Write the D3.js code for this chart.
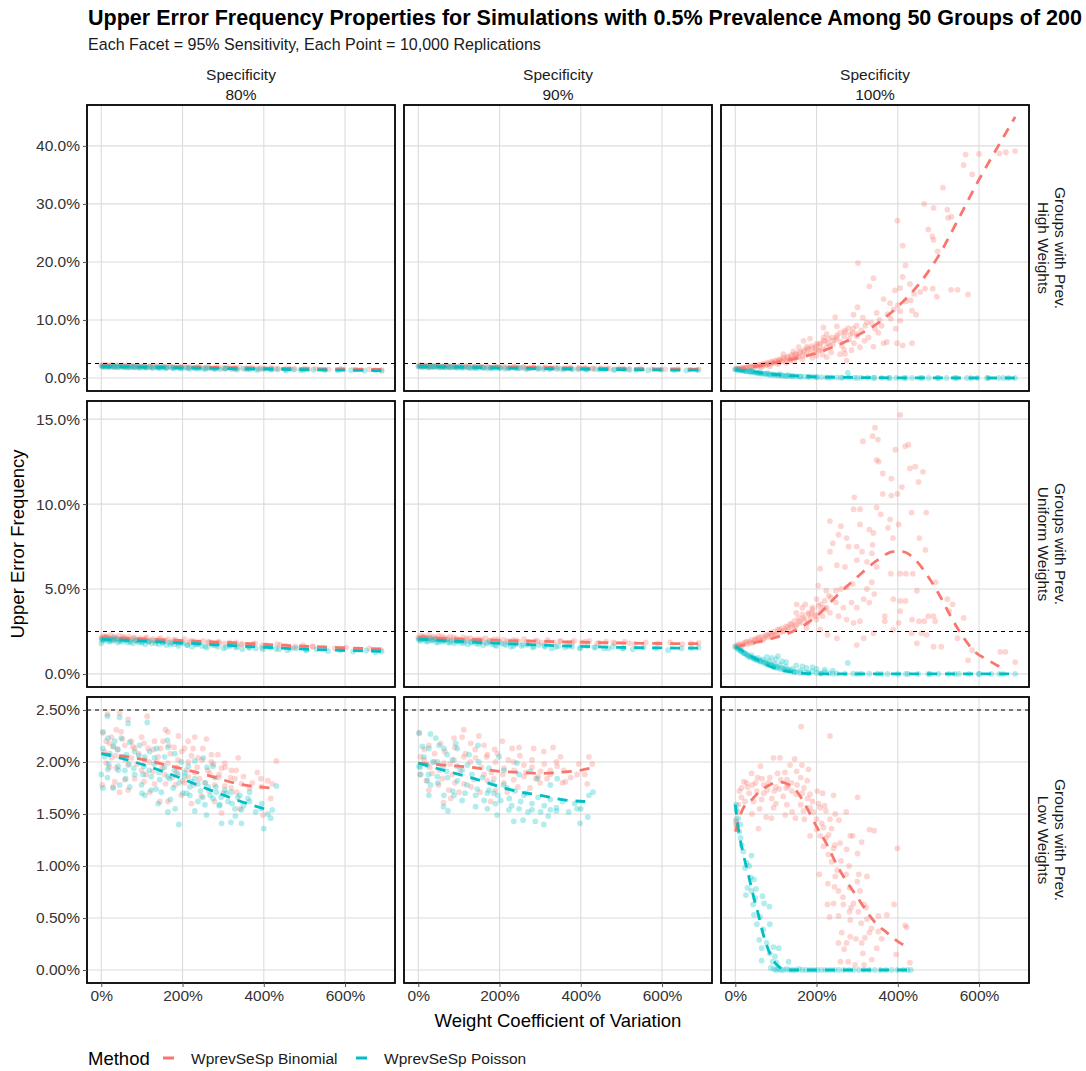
<!DOCTYPE html>
<html>
<head>
<meta charset="utf-8">
<script src="https://cdn.jsdelivr.net/npm/d3@7"></script>
<style>
  body { margin: 0; background: #fff; }
  text { font-family: "Liberation Sans", Arial, sans-serif; }
</style>
</head>
<body>
<svg id="chart" width="1086" height="1071"></svg>
<script>
const titleText = "Upper Error Frequency Properties for Simulations with 0.5% Prevalence Among 50 Groups of 200";
const subtitleText = "Each Facet = 95% Sensitivity, Each Point = 10,000 Replications";
const specLabels = ["80%", "90%", "100%"];
const rowLabels = [["Groups with Prev.", "High Weights"], ["Groups with Prev.", "Uniform Weights"], ["Groups with Prev.", "Low Weights"]];
const methods = ["WprevSeSp Binomial", "WprevSeSp Poisson"];
const colors = ["#F8766D", "#00BFC4"];
const xTicks = [0, 200, 400, 600];
const yTicksHigh = [0, 10, 20, 30, 40];
const yTicksUniform = [0, 5, 10, 15];
const yTicksLow = [0, 0.5, 1, 1.5, 2, 2.5];
const threshold = 2.5;

// points, "cv:freq" in percent
const highSp80Bin = "0:2.15 5:2.3 9:2.0 14:2.2 18:2.05 24:2.25 29:2.1 33:1.95 40:2.2 46:2.05 52:2.15 58:1.95 63:2.2 70:2.0 76:2.1 83:1.9 90:2.15 97:2.0 104:2.1 112:1.85 120:2.05 128:1.95 137:2.15 145:1.9 153:2.0 162:1.85 170:2.05 180:1.9 189:1.8 198:2.0 208:1.85 218:1.95 229:1.75 240:1.9 251:1.8 263:1.95 275:1.7 288:1.85 300:1.75 313:1.9 326:1.7 340:1.8 355:1.65 370:1.8 386:1.7 402:1.6 418:1.75 436:1.6 455:1.7 476:1.55 500:1.65 528:1.6 560:1.5 590:1.55 625:1.45 660:1.5 690:1.4 " +
  "3:2.05 12:2.15 20:1.95 31:2.05 42:2.1 55:2.0 67:2.1 80:1.95 93:2.05 107:1.95 122:2.0 140:1.85 158:1.95 176:1.8 195:1.9 215:1.8 236:1.85 258:1.75 282:1.8 306:1.7 332:1.75 360:1.65 392:1.7 428:1.6 465:1.62 510:1.55";
const highSp80Poi = "2:2.05 7:1.95 12:2.1 17:1.9 22:2.0 27:2.15 32:1.85 38:2.0 44:1.9 50:2.05 56:1.85 62:1.95 68:1.8 75:2.0 82:1.85 89:1.95 96:1.75 104:1.9 111:1.8 119:1.95 127:1.75 135:1.85 144:1.7 152:1.85 161:1.75 170:1.9 179:1.65 188:1.8 198:1.7 208:1.8 219:1.6 230:1.75 242:1.65 254:1.55 266:1.7 279:1.6 292:1.5 306:1.65 320:1.55 335:1.45 350:1.6 366:1.5 382:1.4 399:1.55 416:1.45 434:1.5 453:1.4 474:1.45 497:1.35 522:1.42 550:1.35 583:1.3 615:1.35 648:1.25 675:1.3 690:1.22 " +
  "4:1.95 10:2.05 19:1.95 30:2.0 41:1.85 53:1.95 65:1.85 78:1.9 92:1.8 108:1.85 124:1.75 141:1.8 158:1.7 176:1.75 195:1.65 214:1.7 235:1.6 257:1.65 280:1.55 304:1.6 330:1.5 358:1.52 388:1.45 420:1.48 455:1.38 490:1.4";
const highSp90Bin = "0:2.1 6:2.25 11:1.95 16:2.15 21:2.05 27:2.2 33:1.95 39:2.1 45:2.0 51:2.2 58:1.9 64:2.05 71:2.15 78:1.95 85:2.05 92:1.9 100:2.1 108:1.95 116:2.05 124:1.85 133:2.0 142:1.9 151:2.05 160:1.85 170:1.95 180:1.8 190:2.0 201:1.85 212:1.95 223:1.75 235:1.9 247:1.8 259:1.9 272:1.7 285:1.85 299:1.75 313:1.85 328:1.7 343:1.8 359:1.65 375:1.75 392:1.65 410:1.75 429:1.6 449:1.7 470:1.6 493:1.65 518:1.55 546:1.6 576:1.55 608:1.5 640:1.55 668:1.45 690:1.5 " +
  "3:2.05 13:2.1 24:1.95 35:2.05 47:2.1 60:1.95 73:2.05 87:2.0 102:1.95 118:2.05 136:1.9 154:1.95 173:1.85 193:1.9 214:1.8 236:1.9 260:1.8 284:1.82 310:1.75 337:1.8 366:1.7 396:1.72 430:1.65 465:1.68 505:1.6";
const highSp90Poi = "1:2.0 6:2.1 11:1.9 16:2.05 22:1.95 28:1.85 34:2.0 40:1.9 46:2.05 53:1.85 60:1.95 67:1.8 74:1.95 81:1.85 89:1.9 97:1.75 105:1.9 113:1.8 122:1.85 131:1.7 140:1.85 149:1.75 159:1.8 169:1.65 179:1.8 190:1.7 201:1.75 213:1.6 225:1.75 238:1.65 251:1.7 265:1.55 279:1.7 294:1.6 309:1.5 325:1.65 341:1.55 358:1.45 376:1.6 395:1.5 415:1.45 436:1.55 458:1.45 482:1.4 508:1.5 536:1.4 566:1.35 598:1.42 630:1.35 660:1.3 688:1.35 " +
  "4:1.95 14:2.0 25:1.9 37:1.95 50:1.85 63:1.9 77:1.8 92:1.85 108:1.75 125:1.82 142:1.7 160:1.78 180:1.68 200:1.72 222:1.62 245:1.68 270:1.6 296:1.64 322:1.55 350:1.58 380:1.5 412:1.52 446:1.45 482:1.48 520:1.42";
const highSp100Bin = "0:1.5 5:1.6 10:1.55 15:1.7 20:1.65 25:1.8 30:1.75 35:1.9 40:1.85 45:2.0 50:2.1 55:1.95 60:2.2 65:2.1 70:2.35 75:2.25 80:2.5 85:2.4 90:2.7 95:2.55 100:2.9 105:2.7 110:3.1 115:2.9 120:3.3 125:3.0 130:3.5 135:3.2 140:3.8 145:3.4 150:4.0 155:3.6 160:4.3 165:3.8 170:4.6 175:4.0 180:4.9 185:4.2 190:5.2 195:4.5 200:5.5 205:4.7 210:6.0 215:5.0 220:6.3 225:5.3 230:6.8 240:5.8 250:7.4 260:6.2 270:7.9 280:6.6 290:8.5 300:7.2 " +
  "689:39.1 666:38.9 650:38.7 600:38.6 567:38.5 562:36.7 583:35.1 511:32.8 465:30.0 488:29.3 522:29.0 399:27.1 524:27.6 532:27.8 475:25.6 485:24.4 488:23.8 498:21.8 412:22.8 302:19.8 419:19.4 340:17.2 412:17.4 330:15.8 393:15.1 406:15.5 430:16.2 455:14.8 467:15.4 486:15.4 496:14.0 531:15.2 547:15.2 573:14.4 365:13.6 381:12.9 432:13.4 435:11.6 445:10.9 406:11.5 406:9.9 383:10.2 348:11.2 301:12.2 291:10.9 314:10.4 324:9.6 344:8.5 246:10.5 217:8.7 250:8.9 270:8.2 283:7.5 299:7.6 328:7.0 340:5.4 365:6.0 373:6.2 398:6.0 412:5.6 435:6.0 307:5.3 286:4.8 268:4.9 242:6.5 233:5.6 209:4.8 217:7.0 184:6.8 168:6.4 156:5.3 143:4.6 118:4.1 270:4.2 200:3.9 225:3.6 258:4.1 274:3.0 151:3.6 135:3.0 110:2.8 77:2.3 176:5.4 200:5.9 250:7.0 225:7.6 " +
  "310:8.2 320:9.0 335:9.5 355:10.0 360:9.0 375:11.0 390:11.8 400:12.5 420:13.2 440:14.5 395:8.5 352:7.8 318:6.4 292:6.0 262:5.6 236:4.4 215:4.0 190:3.5 165:3.2 145:2.9 125:2.6 105:2.4 85:2.0 65:1.9 " +
  "8:1.65 18:1.75 28:1.85 38:2.05 48:2.15 58:2.3 68:2.45 78:2.6 88:2.8 98:3.0 108:3.2 118:3.5 128:3.7 138:4.0 148:4.2 158:4.5 168:4.8 178:5.1 188:5.5 198:5.0 208:5.8 218:6.5 228:6.0 238:7.0 248:6.6 258:7.8 268:7.2 278:8.6 288:7.8 298:9.0";
const highSp100Poi = "0:1.5 3:1.55 6:1.4 10:1.45 14:1.35 18:1.3 22:1.25 27:1.2 32:1.15 37:1.05 40:1.25 42:1.1 48:0.95 54:0.9 60:0.85 60:1.0 66:0.8 72:0.75 79:0.7 80:0.85 86:0.62 93:0.6 100:0.55 108:0.5 110:0.65 116:0.45 124:0.42 130:0.5 133:0.38 142:0.35 151:0.3 160:0.28 170:0.25 180:0.22 190:0.2 200:0.17 212:0.15 224:0.12 237:0.1 250:0.1 264:0.08 277:0.86 279:0.07 294:0.06 310:0.05 326:0.04 343:0.04 360:0.03 378:0.02 396:0.02 415:0.02 435:0.01 455:0.01 476:0.01 498:0.01 520:0.0 545:0.0 570:0.0 596:0.0 622:0.0 648:0.0 672:0.0 689:0.0 " +
  "5:1.45 15:1.32 25:1.15 35:1.12 45:1.0 55:0.85 65:0.72 75:0.68 85:0.55 95:0.5 105:0.45 115:0.38 125:0.32 140:0.28 160:0.22 180:0.18 200:0.12 230:0.08 260:0.05 300:0.03 340:0.02 380:0.01 420:0 460:0 500:0.01 540:0 580:0 620:0.01 660:0";
const uniSp80Bin = "0:2.15 4:2.25 9:2.05 13:2.2 18:2.1 23:2.3 28:2.0 33:2.2 38:2.1 44:2.25 50:2.05 56:2.15 62:2.0 68:2.2 75:2.05 82:2.15 89:1.95 96:2.1 104:2.0 112:2.15 120:1.95 128:2.05 137:1.9 146:2.1 155:1.95 164:2.05 174:1.85 184:2.0 194:1.9 205:2.05 216:1.85 227:1.95 239:1.8 251:1.95 263:1.85 276:1.75 289:1.9 303:1.8 317:1.7 332:1.85 347:1.75 363:1.65 379:1.8 396:1.7 414:1.6 433:1.75 453:1.65 474:1.55 497:1.7 521:1.6 547:1.55 575:1.5 603:1.55 632:1.45 660:1.5 688:1.42 " +
  "3:2.1 11:2.2 21:2.05 31:2.15 42:2.05 54:2.2 66:2.05 79:2.1 93:2.0 108:2.1 124:2.0 141:2.05 159:1.95 178:2.0 198:1.9 219:1.95 241:1.85 265:1.9 290:1.82 316:1.85 344:1.75 374:1.78 406:1.7 440:1.72 478:1.62 520:1.62";
const uniSp80Poi = "0:1.8 1:2.05 5:1.95 10:2.15 14:2.0 19:1.9 24:2.1 29:1.95 34:2.05 40:1.85 46:2.0 52:1.9 58:2.05 64:1.85 71:1.95 78:1.8 85:2.0 92:1.85 100:1.9 108:1.75 116:1.9 124:1.8 133:1.95 142:1.75 151:1.85 160:1.7 170:1.85 180:1.75 190:1.65 201:1.8 212:1.7 223:1.6 235:1.75 247:1.65 260:1.55 273:1.7 287:1.6 301:1.5 316:1.65 331:1.55 347:1.45 363:1.6 380:1.5 398:1.45 417:1.55 437:1.45 458:1.4 480:1.5 504:1.4 530:1.45 558:1.35 588:1.4 620:1.32 652:1.38 675:1.28 690:1.32 " +
  "3:2.0 12:2.1 22:1.95 33:2.05 45:1.92 58:2.0 71:1.88 85:1.95 100:1.85 116:1.92 133:1.8 151:1.85 170:1.75 190:1.8 211:1.7 233:1.72 256:1.62 281:1.68 307:1.58 335:1.6 365:1.52 396:1.55 430:1.48 466:1.48 505:1.42";
const uniSp90Bin = "0:2.15 5:2.25 10:2.05 15:2.2 20:2.1 26:2.3 32:2.05 38:2.2 44:2.1 50:2.25 57:2.0 64:2.15 71:2.05 78:2.2 86:2.0 94:2.1 102:1.95 110:2.15 119:2.0 128:2.1 137:1.95 146:2.05 156:1.9 166:2.1 176:1.95 187:2.05 198:1.9 210:2.0 222:1.85 234:2.0 247:1.9 260:2.05 274:1.85 288:1.95 303:1.85 318:2.0 334:1.85 350:1.95 367:1.8 384:1.95 402:1.85 421:1.95 441:1.8 462:1.9 484:1.8 508:1.9 533:1.75 560:1.85 590:1.8 620:1.85 650:1.75 672:1.8 690:1.82 " +
  "3:2.1 12:2.2 22:2.1 33:2.15 45:2.05 58:2.2 72:2.05 86:2.15 102:2.0 119:2.1 137:2.0 156:2.05 176:1.95 197:2.05 219:1.95 242:1.98 267:1.9 293:1.95 320:1.88 349:1.92 379:1.85 411:1.9 445:1.82 480:1.86 520:1.8";
const uniSp90Poi = "1:2.05 6:1.95 11:2.15 16:2.0 21:1.9 27:2.1 33:1.95 39:2.05 45:1.85 52:2.0 59:1.9 66:2.0 73:1.85 80:1.95 88:1.8 96:1.95 104:1.85 113:1.9 122:1.75 131:1.9 140:1.8 150:1.85 160:1.7 170:1.85 181:1.75 192:1.65 204:1.8 216:1.7 228:1.6 241:1.75 254:1.65 268:1.7 282:1.55 297:1.7 312:1.6 328:1.5 344:1.65 361:1.55 379:1.6 397:1.5 416:1.65 436:1.55 457:1.5 479:1.6 503:1.5 528:1.45 555:1.55 585:1.5 615:1.4 648:1.5 672:1.52 690:1.55 " +
  "3:2.0 13:2.1 24:1.95 36:2.0 49:1.88 63:1.95 78:1.85 94:1.9 111:1.8 129:1.85 148:1.75 168:1.8 189:1.7 211:1.75 234:1.65 258:1.72 284:1.62 311:1.66 339:1.58 369:1.62 400:1.55 433:1.58 468:1.5 505:1.52";
const uniSp100Bin = "0:1.62 5:1.7 10:1.75 15:1.65 20:1.8 25:1.85 30:1.75 35:1.9 40:2.0 45:1.85 50:2.05 55:2.1 60:1.95 65:2.2 70:2.1 75:2.3 80:2.15 85:2.4 90:2.25 95:2.5 100:2.35 105:2.6 110:2.45 115:2.7 120:2.55 125:2.8 130:2.6 135:2.95 140:2.75 145:3.1 150:2.9 155:3.3 160:3.0 165:3.5 170:3.2 175:2.7 180:3.6 185:3.3 190:3.9 195:3.5 200:3.2 205:4.0 210:3.7 215:3.4 220:4.3 225:3.9 230:4.6 150:3.6 165:3.9 180:3.5 190:3.8 " +
  "406:15.25 344:14.5 338:14.0 351:13.8 314:13.7 426:13.5 418:13.4 394:13.2 348:12.6 353:12.5 430:12.1 443:12.2 462:11.9 363:11.8 384:11.5 451:11.3 410:11.0 363:10.6 384:10.5 399:10.6 293:10.4 291:9.7 307:9.7 348:9.8 434:9.5 470:9.5 358:9.4 233:9.0 260:8.7 381:9.1 402:8.8 376:8.6 307:8.8 330:8.5 340:8.3 254:8.2 274:8.0 453:8.0 388:8.0 240:7.7 279:7.5 299:7.5 312:7.2 338:7.6 336:7.1 233:7.2 468:7.3 209:6.2 250:6.4 270:6.3 299:6.7 324:6.6 348:6.3 336:5.4 383:5.9 406:5.9 420:5.9 437:5.9 493:5.4 447:4.9 204:5.2 224:4.9 248:4.9 274:5.1 289:5.3 324:5.0 342:4.7 316:4.4 286:4.2 266:3.9 299:3.9 330:4.2 389:4.4 406:4.3 419:4.3 522:4.4 535:4.1 172:4.1 151:4.1 200:4.4 217:3.9 233:3.6 254:3.4 274:3.2 291:3.0 307:3.1 368:3.4 368:3.1 406:3.7 435:3.2 452:3.1 465:3.1 475:3.4 488:3.4 492:3.1 527:3.7 562:3.3 402:3.0 434:2.4 458:2.4 471:2.3 547:2.1 389:2.6 340:2.4 316:2.1 250:2.1 227:2.3 209:2.6 299:1.7 447:1.8 488:1.6 507:1.6 583:1.4 573:0.8 652:1.3 665:1.3 689:0.7 " +
  "8:1.68 18:1.72 28:1.9 38:1.82 48:2.0 58:2.15 68:2.0 78:2.25 88:2.35 98:2.3 108:2.6 118:2.5 128:2.75 138:2.9 148:2.8 158:3.1 168:3.3 178:3.0 188:3.6 198:3.4 210:4.1 222:3.8 235:4.5 248:4.2 260:5.0";
const uniSp100Poi = "0:1.6 4:1.55 8:1.45 12:1.4 16:1.35 20:1.25 24:1.2 28:1.15 32:1.05 36:1.0 40:1.1 44:0.95 48:0.9 52:0.85 56:0.95 60:0.8 64:0.75 68:0.85 72:0.7 76:0.65 78:1.0 80:0.6 84:0.75 88:0.55 90:0.95 92:0.5 96:0.6 100:0.45 100:0.85 105:0.4 105:1.05 110:0.55 115:0.35 115:0.75 120:0.3 125:0.45 125:0.7 130:0.25 135:0.2 140:0.3 145:0.15 150:0.12 150:0.5 160:0.2 165:0.45 170:0.1 175:0.35 180:0.08 190:0.15 190:0.4 200:0.06 200:0.3 210:0.05 220:0.1 220:0.25 230:0.04 240:0.2 250:0.03 270:0.02 277:0.65 290:0.02 310:0.01 330:0.01 350:0.01 375:0 400:0 425:0 450:0 475:0 500:0 525:0 550:0 575:0 600:0 630:0 660:0 689:0 " +
  "6:1.5 14:1.32 22:1.22 30:1.1 38:0.98 46:0.9 54:0.8 62:0.72 70:0.65 78:0.55 86:0.5 94:0.42 102:0.35 112:0.28 122:0.22 132:0.18 145:0.1 160:0.06 180:0.04 210:0.02 240:0.01 300:0 360:0 420:0 480:0 540:0 600:0 650:0";
const lowSp80Bin = "15:2.46 45:2.47 66:2.41 113:2.44 158:2.31 164:2.29 190:2.25 230:2.24 259:2.22 214:2.20 166:2.16 131:2.20 99:2.24 74:2.20 49:2.29 37:2.31 25:2.24 4:2.28 12:2.20 29:2.15 58:2.16 82:2.13 115:2.13 146:2.13 179:2.14 205:2.13 226:2.13 250:2.13 271:2.07 287:2.07 337:2.04 431:2.01 304:1.99 320:1.92 296:1.94 271:2.00 238:2.04 214:2.00 189:2.02 164:1.99 136:2.00 107:2.02 74:2.04 49:2.05 25:2.04 12:1.99 37:1.94 66:1.97 99:1.92 127:1.91 156:1.88 185:1.90 214:1.86 242:1.84 267:1.89 289:1.85 329:1.84 345:1.79 365:1.75 393:1.84 394:1.76 421:1.79 417:1.65 398:1.49 333:1.71 320:1.75 304:1.77 279:1.78 255:1.80 228:1.78 205:1.80 182:1.78 158:1.79 131:1.79 105:1.81 82:1.84 58:1.83 33:1.81 2:1.78 66:1.73 119:1.71 144:1.62 164:1.62 197:1.68 246:1.67 296:1.51 341:1.55 279:1.62 222:1.60 45:1.71 29:1.76 " +
  "8:2.10 20:2.18 35:2.06 52:2.22 60:2.02 78:2.15 92:2.08 105:2.18 118:2.00 128:2.12 140:2.05 152:2.20 170:2.08 186:1.95 198:2.10 210:1.92 222:2.06 236:1.95 248:2.02 262:1.92 276:1.98 290:1.88 305:1.95 318:1.85 332:1.92 350:1.86 372:1.80 384:1.90 410:1.82 20:1.95 40:2.12 88:1.98 110:1.88 150:1.94 175:1.85 200:1.82 230:1.90 265:1.72 300:1.70";
const lowSp80Poi = "15:2.44 45:2.43 66:2.37 113:2.38 4:2.29 16:2.23 33:2.20 49:2.23 70:2.19 94:2.16 119:2.10 136:2.13 163:2.21 164:2.14 181:2.08 4:2.13 21:2.08 41:2.12 62:2.07 82:2.10 107:2.05 131:2.04 156:2.05 197:2.00 214:1.96 230:2.01 251:2.04 275:1.96 0:1.88 16:1.93 41:1.96 58:1.92 82:1.88 103:1.88 123:1.86 144:1.83 164:1.86 189:1.88 205:1.90 222:1.81 238:1.79 263:1.76 283:1.71 304:1.73 320:1.71 341:1.68 361:1.65 4:1.75 29:1.75 45:1.78 70:1.76 99:1.78 123:1.73 148:1.71 177:1.75 201:1.70 218:1.68 238:1.62 255:1.59 275:1.65 292:1.59 312:1.62 329:1.55 345:1.54 394:1.55 421:1.54 417:1.46 400:1.36 107:1.68 140:1.60 164:1.52 182:1.55 191:1.40 230:1.53 259:1.49 296:1.41 319:1.42 345:1.41 431:1.77 365:1.71 " +
  "8:2.05 18:1.98 30:2.15 42:1.92 55:2.05 68:1.98 80:1.94 92:2.06 105:1.96 118:1.92 130:1.98 142:1.90 155:1.95 168:1.84 180:1.92 192:1.80 205:1.86 218:1.76 230:1.84 244:1.72 256:1.80 268:1.68 282:1.76 295:1.66 308:1.70 322:1.60 336:1.66 350:1.58 365:1.62 380:1.52 395:1.60 410:1.50 15:1.85 60:1.84 100:1.70 135:1.74 170:1.64 210:1.70 250:1.66 290:1.58 330:1.48 260:1.95 280:1.85";
const lowSp90Bin = "2:2.28 26:2.16 55:2.18 88:2.23 112:2.31 108:2.24 149:2.25 129:2.18 162:2.16 188:2.12 207:2.20 231:2.13 248:2.14 284:2.13 309:2.10 332:2.14 350:2.05 420:2.05 428:1.98 391:1.88 416:1.79 362:1.81 342:1.96 325:1.92 301:1.91 280:2.02 260:1.97 235:2.00 211:1.94 190:2.00 170:2.07 141:2.04 112:2.05 88:2.02 63:1.99 39:2.00 14:2.02 4:1.88 34:1.89 59:1.84 84:1.88 112:1.79 137:1.83 162:1.88 186:1.84 211:1.80 235:1.83 260:1.86 289:1.84 317:1.84 26:1.73 75:1.73 100:1.71 152:1.71 190:1.73 62:1.61 80:1.65 178:1.62 219:1.71 275:1.75 " +
  "5:2.05 15:2.12 28:1.95 40:2.08 52:1.92 65:2.10 78:1.98 90:2.14 103:1.92 116:2.08 128:2.00 140:2.12 155:1.95 168:2.05 180:1.90 195:2.08 208:1.88 222:2.02 236:1.92 250:2.06 265:1.90 280:1.95 295:1.86 310:1.98 325:1.88 340:2.00 358:1.92 375:1.85 395:1.98 410:1.88 20:1.82 50:1.78 90:1.80 130:1.76 170:1.82 245:1.76 300:1.80 355:1.80";
const lowSp90Poi = "2:2.28 30:2.27 43:2.23 10:2.15 26:2.13 51:2.16 63:2.13 92:2.18 96:2.13 125:2.07 147:2.16 71:2.07 47:2.00 22:1.97 2:1.96 6:1.88 22:1.82 47:1.86 70:1.91 96:1.96 121:1.97 149:2.00 174:1.94 199:2.05 211:1.92 243:1.99 248:1.88 276:1.91 293:1.84 325:1.78 342:1.84 63:1.68 88:1.68 108:1.63 141:1.57 141:1.68 174:1.73 186:1.70 203:1.63 170:1.55 194:1.49 223:1.54 235:1.43 248:1.55 258:1.44 280:1.54 288:1.43 301:1.52 309:1.40 325:1.54 340:1.53 62:1.57 73:1.53 26:1.68 391:1.55 398:1.41 417:1.47 430:1.71 420:1.68 162:1.63 219:1.75 260:1.68 " +
  "5:1.95 14:2.05 25:1.88 36:2.00 48:1.80 60:1.95 72:1.85 84:2.02 96:1.82 108:1.92 120:1.78 132:1.88 145:1.74 158:1.85 170:1.70 183:1.80 196:1.68 210:1.78 224:1.65 238:1.72 252:1.62 266:1.70 280:1.60 295:1.66 310:1.58 325:1.64 340:1.56 355:1.62 370:1.52 385:1.60 400:1.55 30:1.78 85:1.72 115:1.70 190:1.60 230:1.58 270:1.52 320:1.48";
const lowSp100Bin = "162:2.34 233:2.25 94:2.04 110:2.04 146:2.03 62:1.96 135:1.97 164:1.97 180:1.93 40:1.89 66:1.84 104:1.89 122:1.90 151:1.91 177:1.82 21:1.81 85:1.85 127:1.83 161:1.85 10:1.72 34:1.70 53:1.72 79:1.73 108:1.74 139:1.72 169:1.75 202:1.72 215:1.70 242:1.68 184:1.69 150:1.69 118:1.67 90:1.65 65:1.64 45:1.62 24:1.62 8:1.59 94:1.56 127:1.59 161:1.59 184:1.56 209:1.56 168:1.53 192:1.52 223:1.53 246:1.50 273:1.52 301:1.66 41:1.50 76:1.47 89:1.46 123:1.49 148:1.46 57:1.36 200:1.45 213:1.41 233:1.45 255:1.44 200:1.35 217:1.37 237:1.36 184:1.29 209:1.29 223:1.27 283:1.29 289:1.29 330:1.35 342:1.34 258:1.22 311:1.23 242:1.17 217:1.19 274:1.16 301:1.12 399:1.17 229:1.11 237:1.04 251:0.96 207:0.92 246:0.90 273:0.92 304:0.92 324:0.90 228:0.83 244:0.80 254:0.76 281:0.79 307:0.76 227:0.63 242:0.64 266:0.63 291:0.64 317:0.63 391:0.63 232:0.51 254:0.52 281:0.56 303:0.56 322:0.60 283:0.48 324:0.49 352:0.52 373:0.53 418:0.43 422:0.41 262:0.36 283:0.32 297:0.30 330:0.36 352:0.37 254:0.26 274:0.26 311:0.26 319:0.31 268:0.20 314:0.16 348:0.21 396:0.15 259:0.08 278:0.08 295:0.05 317:0.05 336:0.10 430:0.07 2:1.45 5:1.52 15:1.66 30:1.76 50:1.8 70:1.78 100:1.76 130:1.77 2:1.40 4:1.38 " +
  "15:1.75 28:1.80 42:1.78 55:1.85 70:1.70 82:1.80 96:1.72 112:1.83 125:1.75 138:1.80 152:1.78 165:1.70 178:1.65 190:1.62 205:1.60 220:1.58 60:1.55 100:1.60 140:1.52 170:1.45 230:1.30 245:1.20 260:1.05 280:1.00 300:0.85 265:0.70 285:0.60 310:0.45 335:0.40 360:0.30";
const lowSp100Poi = "2:1.59 3:1.54 2:1.43 7:1.46 12:1.40 10:1.33 13:1.27 16:1.20 20:1.14 40:1.10 28:1.03 34:1.00 24:0.98 38:0.89 46:0.87 30:0.79 40:0.76 51:0.78 26:0.72 49:0.69 44:0.63 67:0.71 71:0.64 84:0.61 46:0.53 61:0.51 85:0.44 53:0.44 69:0.39 59:0.29 77:0.26 65:0.21 94:0.22 107:0.21 85:0.16 65:0.09 92:0.08 98:0.13 102:0.07 131:0.08 87:0.02 95:0.01 100:0 106:0.01 112:0 119:0 126:0.01 133:0 141:0 149:0 157:0.01 165:0 174:0 183:0 192:0 202:0 212:0 222:0 233:0 244:0 255:0 267:0 279:0 291:0 304:0 317:0 330:0 343:0 357:0 371:0 385:0 399:0 413:0 424:0 432:0";

// smoothed fits [cv, freq]
const highSp80BinFit = [[0,2.1],[100,2.0],[200,1.9],[300,1.8],[400,1.7],[500,1.62],[600,1.55],[690,1.48]];
const highSp80PoiFit = [[0,2.0],[100,1.88],[200,1.76],[300,1.64],[400,1.52],[500,1.42],[600,1.34],[690,1.28]];
const highSp90BinFit = [[0,2.08],[100,2.0],[200,1.9],[300,1.8],[400,1.72],[500,1.64],[600,1.56],[690,1.52]];
const highSp90PoiFit = [[0,2.0],[100,1.87],[200,1.74],[300,1.62],[400,1.52],[500,1.44],[600,1.38],[690,1.34]];
const highSp100BinFit = [[0,1.5],[50,2.0],[100,2.7],[150,3.4],[200,4.3],[250,5.6],[300,7.3],[350,9.4],[400,12.3],[450,16.0],[500,21.0],[550,27.5],[600,34.2],[650,40.3],[689,45.0]];
const highSp100PoiFit = [[0,1.5],[25,1.25],[50,1.0],[75,0.78],[100,0.6],[150,0.35],[200,0.2],[250,0.12],[300,0.08],[400,0.03],[500,0.01],[600,0],[689,0]];
const uniSp80BinFit = [[0,2.15],[100,2.06],[200,1.96],[300,1.86],[400,1.74],[500,1.63],[600,1.54],[690,1.47]];
const uniSp80PoiFit = [[0,2.05],[100,1.94],[200,1.82],[300,1.7],[400,1.57],[500,1.46],[600,1.38],[690,1.33]];
const uniSp90BinFit = [[0,2.15],[100,2.06],[200,1.98],[300,1.92],[400,1.87],[500,1.82],[600,1.79],[690,1.78]];
const uniSp90PoiFit = [[0,2.05],[100,1.92],[200,1.8],[300,1.7],[400,1.62],[500,1.56],[600,1.53],[690,1.52]];
const uniSp100BinFit = [[0,1.6],[50,1.85],[100,2.15],[150,2.6],[200,3.4],[250,4.6],[300,5.7],[350,6.7],[390,7.2],[410,7.2],[440,6.8],[470,5.9],[500,4.75],[530,3.4],[560,2.2],[590,1.3],[620,0.85],[645,0.5],[662,0.3]];
const uniSp100PoiFit = [[0,1.62],[25,1.25],[45,0.95],[65,0.7],[85,0.45],[105,0.28],[126,0.16],[150,0.08],[170,0.03],[200,0.01],[250,0],[689,0]];
const lowSp80BinFit = [[0,2.08],[82,2.04],[172,1.96],[255,1.88],[337,1.79],[415,1.75]];
const lowSp80PoiFit = [[0,2.08],[82,2.0],[172,1.88],[255,1.75],[337,1.63],[401,1.55]];
const lowSp90BinFit = [[0,1.99],[63,1.97],[129,1.95],[203,1.91],[252,1.9],[301,1.89],[350,1.9],[399,1.92],[424,1.94]];
const lowSp90PoiFit = [[0,1.99],[63,1.92],[129,1.85],[203,1.76],[252,1.71],[301,1.68],[350,1.64],[411,1.62]];
const lowSp100BinFit = [[0,1.33],[20,1.56],[36,1.62],[61,1.72],[85,1.78],[106,1.81],[127,1.79],[151,1.72],[176,1.56],[200,1.38],[225,1.21],[250,1.01],[274,0.85],[299,0.71],[324,0.56],[348,0.44],[373,0.36],[398,0.28],[430,0.21]];
const lowSp100PoiFit = [[0,1.59],[7,1.37],[20,1.11],[32,0.92],[44,0.72],[57,0.53],[69,0.34],[85,0.16],[102,0.05],[118,0.01],[140,0],[430,0]];

const parsePts = s => s.trim().split(/\s+/).map(p => {
  const [cv, f] = p.split(":").map(Number);
  return { cv, f };
});

const panels = [
  [highSp80Bin, highSp80Poi, highSp80BinFit, highSp80PoiFit],
  [highSp90Bin, highSp90Poi, highSp90BinFit, highSp90PoiFit],
  [highSp100Bin, highSp100Poi, highSp100BinFit, highSp100PoiFit],
  [uniSp80Bin, uniSp80Poi, uniSp80BinFit, uniSp80PoiFit],
  [uniSp90Bin, uniSp90Poi, uniSp90BinFit, uniSp90PoiFit],
  [uniSp100Bin, uniSp100Poi, uniSp100BinFit, uniSp100PoiFit],
  [lowSp80Bin, lowSp80Poi, lowSp80BinFit, lowSp80PoiFit],
  [lowSp90Bin, lowSp90Poi, lowSp90BinFit, lowSp90PoiFit],
  [lowSp100Bin, lowSp100Poi, lowSp100BinFit, lowSp100PoiFit]
].map((d, i) => ({
  row: Math.floor(i / 3), col: i % 3,
  pts: [parsePts(d[0]), parsePts(d[1])],
  fits: [d[2], d[3]]
}));

const svg = d3.select("#chart");
const colX = [87, 404, 721], rowY = [105, 401, 697];
const panelW = 308, panelH = 286;

const x = d3.scaleLinear().domain([-35.2, 723]).range([0, panelW]);
const yScales = [
  d3.scaleLinear().domain([-2.24, 47.04]).range([panelH, 0]),
  d3.scaleLinear().domain([-0.77, 16.07]).range([panelH, 0]),
  d3.scaleLinear().domain([-0.125, 2.625]).range([panelH, 0])
];
const yTicks = [yTicksHigh, yTicksUniform, yTicksLow];
const yFormats = [d => d.toFixed(1) + "%", d => d.toFixed(1) + "%", d => d.toFixed(2) + "%"];

svg.append("rect").attr("width", 1086).attr("height", 1071).attr("fill", "#fff");

// title
const title = svg.append("text")
  .attr("x", 88).attr("y", 25)
  .attr("font-size", 20).attr("font-weight", "bold").attr("fill", "#000")
  .text(titleText);
title.attr("font-size", 20 * 995 / title.node().getComputedTextLength());
const sub = svg.append("text")
  .attr("x", 88).attr("y", 50)
  .attr("font-size", 14).attr("fill", "#1a1a1a")
  .text(subtitleText);
sub.attr("font-size", 14 * 453 / sub.node().getComputedTextLength());

// top strips
specLabels.forEach((s, c) => {
  const cx = colX[c] + panelW / 2;
  const t = svg.append("text").attr("text-anchor", "middle").attr("font-size", 15.5).attr("fill", "#1a1a1a");
  t.append("tspan").attr("x", cx).attr("y", 80).text("Specificity");
  t.append("tspan").attr("x", cx).attr("y", 100).text(s);
});

// right strips
rowLabels.forEach((lines, r) => {
  const cy = rowY[r] + panelH / 2;
  lines.forEach((ln, k) => {
    svg.append("text")
      .attr("transform", `translate(${k === 0 ? 1060 : 1043},${cy}) rotate(90)`)
      .attr("text-anchor", "middle").attr("dominant-baseline", "central")
      .attr("font-size", 15.5).attr("fill", "#1a1a1a")
      .text(ln);
  });
});

const line = y => d3.line().x(d => x(d[0])).y(d => y(d[1])).curve(d3.curveMonotoneX);

panels.forEach(p => {
  const y = yScales[p.row];
  const g = svg.append("g").attr("transform", `translate(${colX[p.col]},${rowY[p.row]})`);
  g.append("rect").attr("width", panelW).attr("height", panelH).attr("fill", "#fff");

  // grid
  g.append("g").selectAll("line").data(xTicks).join("line")
    .attr("x1", d => x(d)).attr("x2", d => x(d)).attr("y1", 0).attr("y2", panelH)
    .attr("stroke", "#dcdcdc").attr("stroke-width", 1.1);
  g.append("g").selectAll("line").data(yTicks[p.row]).join("line")
    .attr("x1", 0).attr("x2", panelW).attr("y1", d => y(d)).attr("y2", d => y(d))
    .attr("stroke", "#dcdcdc").attr("stroke-width", 1.1);

  // points
  p.pts.forEach((pts, m) => {
    g.append("g").selectAll("circle").data(pts).join("circle")
      .attr("cx", d => x(d.cv)).attr("cy", d => y(d.f)).attr("r", 2.9)
      .attr("fill", colors[m]).attr("fill-opacity", 0.3);
  });

  g.append("line")
    .attr("x1", 0).attr("x2", panelW).attr("y1", y(threshold)).attr("y2", y(threshold))
    .attr("stroke", "#000").attr("stroke-width", 1.1).attr("stroke-dasharray", "4,4");

  p.fits.forEach((fit, m) => {
    g.append("path").datum(fit).attr("d", line(y))
      .attr("fill", "none").attr("stroke", colors[m]).attr("stroke-width", 2.8)
      .attr("stroke-dasharray", "10,8");
  });

  g.append("rect").attr("width", panelW).attr("height", panelH)
    .attr("fill", "none").attr("stroke", "#000").attr("stroke-width", 1.8);

  // axes
  if (p.col === 0) {
    const ay = g.append("g").call(d3.axisLeft(y).tickValues(yTicks[p.row]).tickFormat(yFormats[p.row]).tickSize(4).tickPadding(3));
    ay.select(".domain").remove();
    ay.selectAll("line").attr("stroke", "#555");
    ay.selectAll("text").attr("font-size", 15.5).attr("fill", "#333").style("font-family", "Liberation Sans, Arial, sans-serif");
  }
  if (p.row === 2) {
    const ax = g.append("g").attr("transform", `translate(0,${panelH})`)
      .call(d3.axisBottom(x).tickValues(xTicks).tickFormat(d => d + "%").tickSize(4).tickPadding(3));
    ax.select(".domain").remove();
    ax.selectAll("line").attr("stroke", "#555");
    ax.selectAll("text").attr("font-size", 15.5).attr("fill", "#333").style("font-family", "Liberation Sans, Arial, sans-serif");
  }
});

// axis titles
svg.append("text").attr("x", (colX[0] + colX[2] + panelW) / 2).attr("y", 1027)
  .attr("text-anchor", "middle").attr("font-size", 18.5).attr("fill", "#000")
  .text("Weight Coefficient of Variation");
svg.append("text").attr("transform", `translate(24,${rowY[0] + (rowY[2] + panelH - rowY[0]) / 2}) rotate(-90)`)
  .attr("text-anchor", "middle").attr("font-size", 18.5).attr("fill", "#000")
  .text("Upper Error Frequency");

// legend
const lg = svg.append("g").attr("transform", "translate(88,1058)");
lg.append("text").attr("x", 0).attr("y", 0).attr("dominant-baseline", "central")
  .attr("font-size", 18.5).attr("fill", "#000").text("Method");
const keyX = [75, 268];
methods.forEach((mth, m) => {
  lg.append("line").attr("x1", keyX[m]).attr("x2", keyX[m] + 11).attr("y1", 0).attr("y2", 0)
    .attr("stroke", colors[m]).attr("stroke-width", 3);
  lg.append("text").attr("x", keyX[m] + 28).attr("y", 0).attr("dominant-baseline", "central")
    .attr("font-size", 15.5).attr("fill", "#1a1a1a").text(mth);
});
</script>
</body>
</html>
